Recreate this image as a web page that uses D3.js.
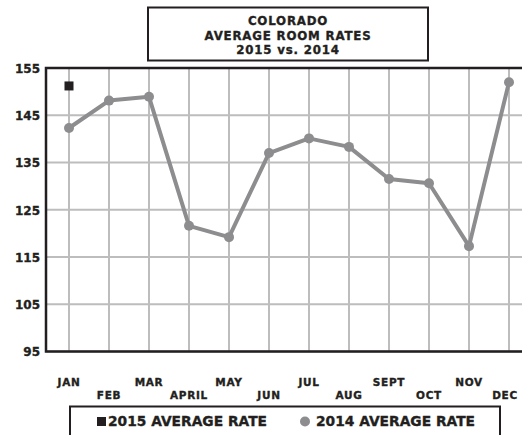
<!DOCTYPE html>
<html><head><meta charset="utf-8">
<script src="https://cdn.jsdelivr.net/npm/d3@7"></script>
<style>body{margin:0;background:#fff}svg{display:block}text{font-family:"DejaVu Sans",sans-serif;font-weight:bold;fill:#231f20;stroke:#231f20;stroke-width:0.35px}</style>
</head><body><svg id="c" width="522" height="435"></svg>
<script>
const months = ["JAN","FEB","MAR","APRIL","MAY","JUN","JUL","AUG","SEPT","OCT","NOV","DEC"];
const rate2014 = [142.3,148.1,148.9,121.6,119.2,137.0,140.1,138.3,131.5,130.6,117.3,152.0];
const rate2015 = [151.2];
const yTicks = [95,105,115,125,135,145,155];
const titleLines = ["COLORADO","AVERAGE ROOM RATES","2015 vs. 2014"];

const svg = d3.select("#c");
const x = d3.scalePoint().domain(months).range([69,509]);
const y = d3.scaleLinear().domain([95,155]).range([351.5,68]);
const left = 46, right = 530;

// grid
svg.append("g").selectAll("line").data(yTicks).join("line")
  .attr("x1",left).attr("x2",right).attr("y1",d=>y(d)).attr("y2",d=>y(d))
  .attr("stroke","#bdbdbd").attr("stroke-width",2);
svg.append("g").selectAll("line").data(months).join("line")
  .attr("x1",d=>x(d)).attr("x2",d=>x(d)).attr("y1",y(155)).attr("y2",y(95))
  .attr("stroke","#bdbdbd").attr("stroke-width",2);
// frame
svg.append("path").attr("d",`M${right},${y(155)}H${left}V${y(95)}H${right}`)
  .attr("fill","none").attr("stroke","#231f20").attr("stroke-width",2.5);

// y axis labels
const yAxis = d3.axisLeft(y).tickValues(yTicks).tickSize(0).tickPadding(0);
const gy = svg.append("g").attr("transform",`translate(40,0)`).call(yAxis);
gy.select(".domain").remove();
gy.selectAll("text").attr("dy","0.36em")
  .style("font-size","12px").style("font-family","'DejaVu Sans',sans-serif").style("font-weight","bold").attr("fill","#231f20");

// x labels
const xAxis = d3.axisBottom(x).tickSize(0).tickPadding(0);
const gx = svg.append("g").call(xAxis);
gx.select(".domain").remove();
gx.selectAll(".tick").attr("transform",(d,i)=>`translate(${x(d) + (i===11?-4:0)},${i%2===0?386:399})`);
gx.selectAll("text").attr("dy",null).attr("y",0)
  .style("font-size","10.5px").style("letter-spacing","0.7px")
  .style("font-family","'DejaVu Sans',sans-serif").style("font-weight","bold").attr("fill","#231f20");

// 2014 line
const line = d3.line().x((d,i)=>x(months[i])).y(d=>y(d));
svg.append("path").datum(rate2014).attr("d",line).attr("fill","none")
  .attr("stroke","#8d8d8f").attr("stroke-width",4).attr("stroke-linejoin","round");
svg.append("g").selectAll("circle").data(rate2014).join("circle")
  .attr("cx",(d,i)=>x(months[i])).attr("cy",d=>y(d)).attr("r",5).attr("fill","#8d8d8f");
// 2015 points
svg.append("g").selectAll("rect").data(rate2015).join("rect")
  .attr("x",(d,i)=>x(months[i])-4.5).attr("y",d=>y(d)-4.5).attr("width",9).attr("height",9).attr("fill","#231f20");

// title box
svg.append("rect").attr("x",148).attr("y",7.5).attr("width",280).attr("height",53)
  .attr("fill","#fff").attr("stroke","#231f20").attr("stroke-width",2);
svg.append("g").selectAll("text").data(titleLines).join("text")
  .attr("x",288).attr("y",(d,i)=>25+i*14.5).attr("text-anchor","middle")
  .style("font-size","11.8px").style("letter-spacing","0.8px").text(d=>d);

// legend
svg.append("rect").attr("x",70).attr("y",406.5).attr("width",430).attr("height",40)
  .attr("fill","#fff").attr("stroke","#231f20").attr("stroke-width",2);
svg.append("rect").attr("x",97).attr("y",417).attr("width",9).attr("height",9).attr("fill","#231f20");
svg.append("text").attr("x",108).attr("y",426).style("font-size","13.8px").text("2015 AVERAGE RATE");
svg.append("circle").attr("cx",305).attr("cy",421.5).attr("r",5).attr("fill","#8d8d8f");
svg.append("text").attr("x",316).attr("y",426).style("font-size","13.8px").text("2014 AVERAGE RATE");
</script></body></html>
